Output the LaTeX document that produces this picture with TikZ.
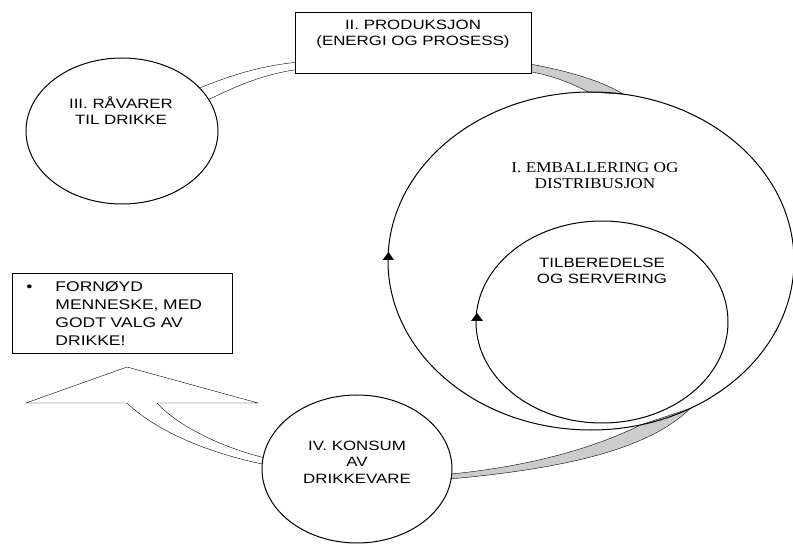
\documentclass[tikz,border=0pt]{standalone}
\usepackage{fontspec}
\newfontfamily\sfwide[FakeStretch=1.25]{Liberation Sans}
\newfontfamily\rmwide[FakeStretch=1.15]{Liberation Serif}
\usetikzlibrary{shapes.geometric,backgrounds,calc}
\begin{document}
\begin{tikzpicture}[x=1pt,y=-1pt, line width=1pt,
  oval/.style={draw, ellipse, inner sep=0pt, outer sep=0pt},
  lbl/.style={align=center, inner sep=0pt, font=\sfwide\fontsize{13.5}{16.5}\selectfont},
  lblserif/.style={align=center, inner sep=0pt, font=\rmwide\fontsize{15}{16}\selectfont},
  band/.style={draw, fill=black!20},
  whitearrow/.style={draw, fill=white},
  headtri/.style={fill=black}]
\useasboundingbox (0,0) rectangle (793,545);
% ellipses
\node[oval, minimum width=192pt, minimum height=146pt] (III) at (122,131) {};
\node[oval, minimum width=406pt, minimum height=338pt] (I) at (591,261) {};
\node[oval, minimum width=252pt, minimum height=202pt] (S) at (602,322) {};
\node[oval, minimum width=190pt, minimum height=148pt] (IV) at (357,469) {};
% box II
\node[draw, fill=white, minimum width=236pt, minimum height=61pt, inner sep=0pt] (II) at (413,43.5) {};
% labels
\node[lbl] (IIt) at (413,34) {II. PRODUKSJON\\(ENERGI OG PROSESS)};
\node[lbl] (IIIt) at (121,110.5) {III. RÅVARER\\TIL DRIKKE};
\node[lblserif] (It) at (595,176) {I. EMBALLERING OG\\DISTRIBUSJON};
\node[lbl] (St) at (602,271) {TILBEREDELSE\\OG SERVERING};
\node[lbl] (IVt) at (357,462) {IV. KONSUM\\AV\\DRIKKEVARE};
% bullet box
\node[draw, anchor=north west, minimum height=80pt, inner xsep=14pt, inner ysep=0pt,
      text width=192pt, align=left, font=\sfwide\fontsize{14}{18.3}\selectfont] (B) at (12,273)
  {\makebox[29pt][l]{•}FORNØYD\\\hspace*{29pt}MENNESKE, MED\\\hspace*{29pt}GODT VALG AV\\\hspace*{29pt}DRIKKE!};
% arrow coordinates
\coordinate (tip) at (127,367);
\coordinate (bl) at (26,403);
\coordinate (br) at (258,403);
\coordinate (so) at (127,403);
\coordinate (si) at (157,403);
\begin{scope}[on background layer]
  % double line III -> II
  \draw (III.29) .. controls (232,75) and (262,65) .. ([xshift=10pt,yshift=13pt]II.south west);
  \draw (III.20) .. controls (237,86) and (265,73) .. ([xshift=10pt,yshift=6pt]II.south west);
  % grey band II -> I
  \filldraw[band] ([xshift=-10pt,yshift=12pt]II.south east) .. controls (565,70) and (600,80) .. (I.79)
     -- (I.91) .. controls (570,82) and (545,73) .. ([xshift=-10pt,yshift=4pt]II.south east) -- cycle;
  % grey band IV -> I
  \filldraw[band] (IV.-3) .. controls (540,465) and (600,445) .. (I.-73)
     -- (I.-56) .. controls (650,448) and (570,468) .. (IV.-6) -- cycle;
  % big white curved arrow IV -> box
  \filldraw[whitearrow] (IV.177) .. controls (205,452) and (155,430) .. (so) -- (bl) -- (tip) -- (br) -- (si)
     .. controls (180,428) and (225,448) .. (IV.173);
\end{scope}
% arrow heads on ellipses
\fill[headtri] ($(I.west)+(-5.5,-1)$) -- ($(I.west)+(0.5,-9)$) -- ($(I.west)+(6,-1)$) -- cycle;
\fill[headtri] ($(S.west)+(-5,-1)$) -- ($(S.west)+(1,-9)$) -- ($(S.west)+(7,-1)$) -- cycle;
\end{tikzpicture}
\end{document}
